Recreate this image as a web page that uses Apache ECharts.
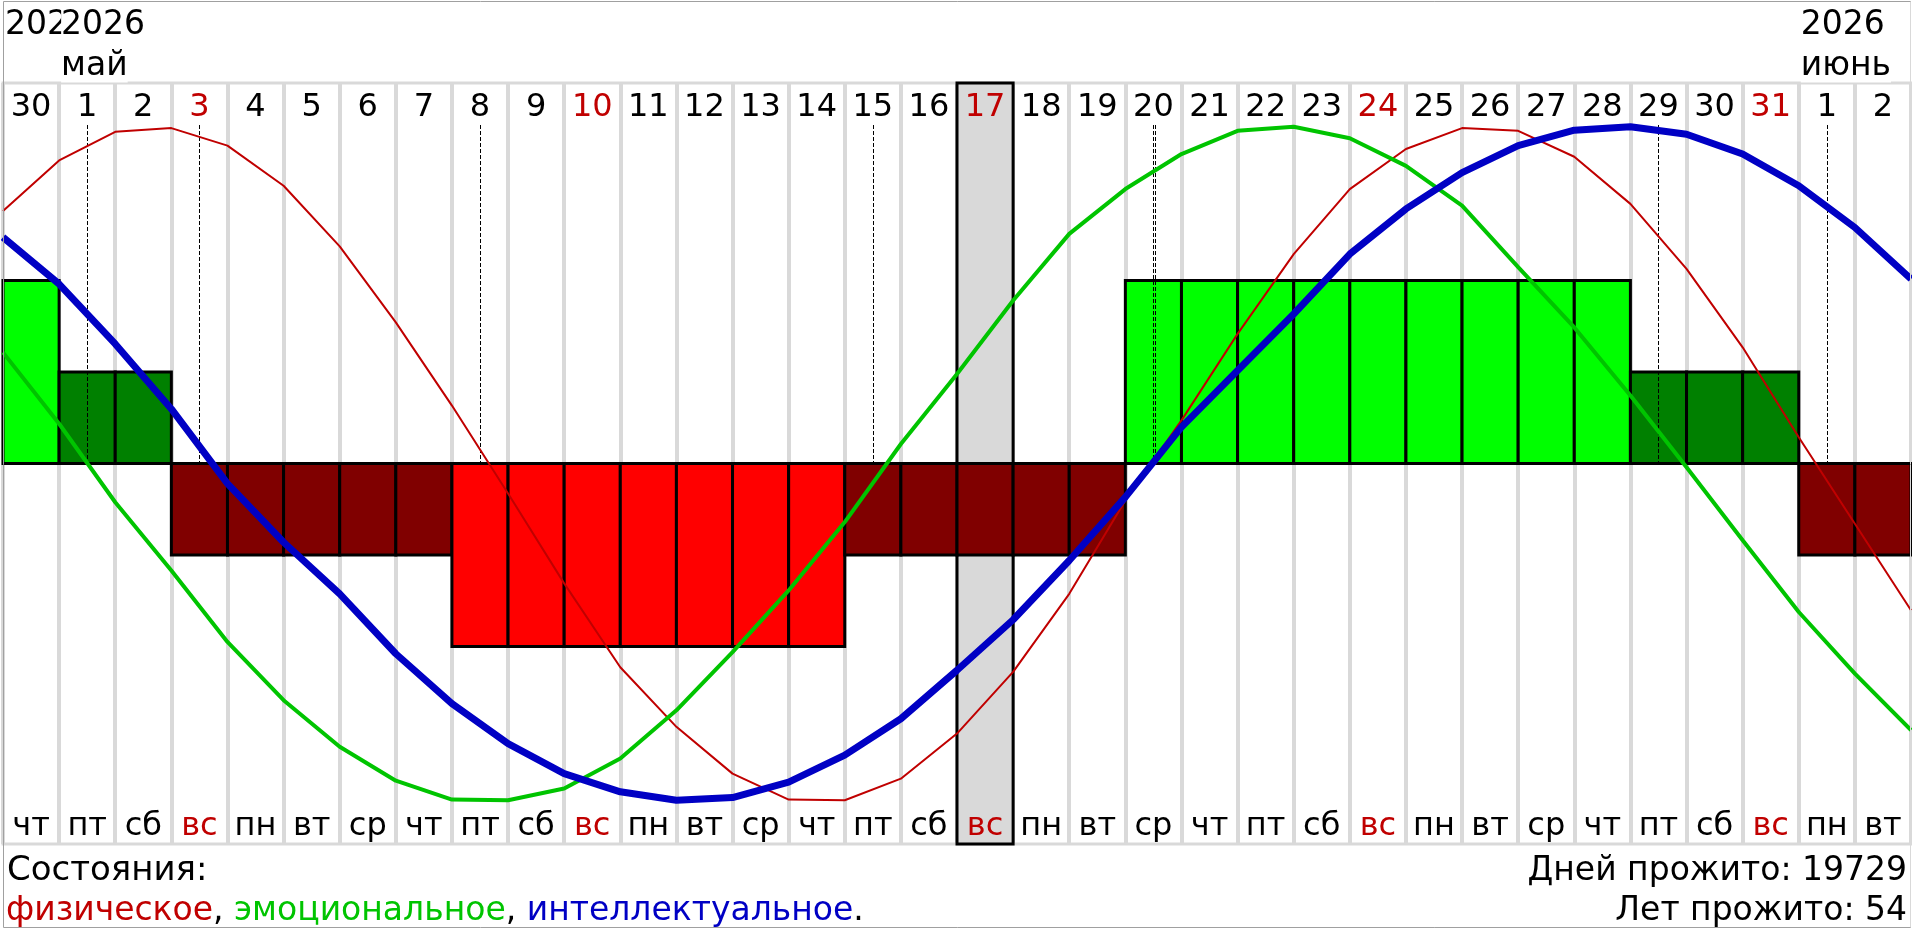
<!DOCTYPE html>
<html>
<head>
<meta charset="utf-8">
<script src="https://cdn.jsdelivr.net/npm/echarts@6/dist/echarts.min.js"></script>
<style>
html,body{margin:0;padding:0;background:#fff;}
#c{width:1912px;height:929px;}
</style>
</head>
<body>
<div id="c"></div>
<script>
// ---------- data ----------
const dayLabels = ['30','1','2','3','4','5','6','7','8','9','10','11','12','13','14','15','16','17','18','19','20','21','22','23','24','25','26','27','28','29','30','31','1','2'];
const weekdayLabels = ['чт','пт','сб','вс','пн','вт','ср','чт','пт','сб','вс','пн','вт','ср','чт','пт','сб','вс','пн','вт','ср','чт','пт','сб','вс','пн','вт','ср','чт','пт','сб','вс','пн','вт'];
const stateLevels = [2,1,1,-1,-1,-1,-1,-1,-2,-2,-2,-2,-2,-2,-2,-1,-1,-1,-1,-1,2,2,2,2,2,2,2,2,2,1,1,1,-1,-1];
const criticalDays = [1,3,8,15,20,20,29,32];
const todayIndex = 17;
const physical = [75,90,98.5,99.6,94.4,82.5,64.5,41.9,17.2,-8.9,-35.6,-60.5,-78.2,-92.1,-99.8,-100,-93.6,-80.2,-61.9,-38.7,-11,12.8,38.5,62.2,81.5,93.4,99.6,98.8,91.1,77.1,57.8,34.5,7.8,-17.9,-43.6];
const emotional = [33,11.8,-11.5,-31.8,-53,-70.3,-84.1,-94.2,-99.8,-100,-96.5,-87.6,-73.3,-56,-37.7,-17.4,5.8,26.6,48.4,68.2,81.5,91.9,98.8,100,96.6,88.4,76.6,58.3,40.4,20.2,-1.1,-22.8,-44.1,-62.4,-79.2];
const intellectual = [67.2,53.3,35.5,16.2,-6,-23.4,-38.7,-56.5,-71.3,-83.2,-92.1,-97.5,-100,-99.2,-94.6,-86.6,-75.8,-61.4,-46.4,-28.8,-10,10.8,27.6,44.4,62.2,75.6,86.4,94.4,99,100,97.8,91.9,82.5,70.1,54.8];
const monthMarks = [
  {col:0, year:'2026', month:''},
  {col:1, year:'2026', month:'май'},
  {col:32, year:'2026', month:'июнь'}
];
const seriesNames = ['физическое','эмоциональное','интеллектуальное'];
const statesTitle = 'Состояния:';
const daysLived = 19729;
const yearsLived = 54;

// ---------- styles ----------
const FONT = 'DejaVu Sans';
const RED = '#c00000', GREEN = '#00c400', BLUE = '#0000c4';
const SUN = '#c00000';
const GRID_GREY = '#d9d9d9';
const levelColor = {'2':'#00ff00','1':'#008000','-1':'#800000','-2':'#ff0000'};

const chart = echarts.init(document.getElementById('c'));

function labelFmt(){
  return function(value, index){
    return weekdayLabels[index] === 'вс' ? '{s|' + value + '}' : '{n|' + value + '}';
  };
}
const labelRich = {
  s:{color:SUN, fontSize:32, fontFamily:FONT},
  n:{color:'#000', fontSize:32, fontFamily:FONT}
};

const option = {
  animation:false,
  backgroundColor:'#fff',
  grid:{left:3, top:83, width:1908, height:761, show:true, borderColor:GRID_GREY, borderWidth:3, backgroundColor:'transparent', containLabel:false},
  xAxis:[
    {type:'value', min:0, max:34, interval:1, position:'bottom', z:0,
      axisLine:{show:false}, axisTick:{show:false}, axisLabel:{show:false},
      splitLine:{show:true, lineStyle:{color:GRID_GREY, width:4}}},
    {type:'category', position:'top', data:dayLabels, boundaryGap:true, z:20,
      axisLine:{show:false}, axisTick:{show:false}, splitLine:{show:false},
      axisLabel:{inside:true, interval:0, margin:25, verticalAlign:'middle', fontFamily:FONT, fontSize:32, color:'#000', formatter:labelFmt(), rich:labelRich}},
    {type:'category', position:'bottom', data:weekdayLabels, boundaryGap:true, z:20,
      axisLine:{show:false}, axisTick:{show:false}, splitLine:{show:false},
      axisLabel:{inside:true, interval:0, margin:17, verticalAlign:'middle', fontFamily:FONT, fontSize:32, color:'#000', formatter:labelFmt(), rich:labelRich}}
  ],
  yAxis:[
    {type:'value', min:-113, max:113, show:false},
    {type:'value', min:-4.16, max:4.16, show:false}
  ],
  series:[
    {
      type:'custom', name:'states', xAxisIndex:0, yAxisIndex:1, z:3, silent:true,
      data:stateLevels.map((v,i)=>[i,v]),
      renderItem:function(params, api){
        const i = api.value(0), v = api.value(1);
        const p0 = api.coord([i,0]), p1 = api.coord([i+1,v]);
        const bar = {type:'rect', z2:2, shape:{x:p0[0], y:Math.min(p0[1],p1[1]), width:p1[0]-p0[0], height:Math.abs(p1[1]-p0[1])},
          style:{fill:levelColor[String(v)], stroke:'#000', lineWidth:3}};
        if (i === todayIndex) {
          const cs = params.coordSys;
          return {type:'group', children:[
            {type:'rect', z2:1, shape:{x:p0[0], y:cs.y, width:p1[0]-p0[0], height:cs.height},
              style:{fill:GRID_GREY, stroke:'#000', lineWidth:3}},
            bar
          ]};
        }
        return bar;
      }
    },
    {
      type:'custom', name:'critical', xAxisIndex:0, yAxisIndex:1, z:4, silent:true,
      data:criticalDays.map((d,j)=>[d, criticalDays.slice(0,j).filter(x=>x===d).length]),
      renderItem:function(params, api){
        const d = api.value(0), occ = api.value(1);
        const x = Math.round(api.coord([d+0.5,0])[0]) + 0.5 + 2*occ;
        const yBase = api.coord([d,0])[1];
        const yTop = params.coordSys.y + 42;
        return {type:'line', shape:{x1:x, y1:yTop, x2:x, y2:yBase},
          style:{stroke:'#000', lineWidth:1, lineDash:[4,2]}};
      }
    },
    {type:'line', name:seriesNames[0], xAxisIndex:0, yAxisIndex:0, z:5, silent:true, symbol:'none',
      data:physical.map((v,k)=>[k,v]), lineStyle:{color:RED, width:2}},
    {type:'line', name:seriesNames[1], xAxisIndex:0, yAxisIndex:0, z:6, silent:true, symbol:'none',
      data:emotional.map((v,k)=>[k,v]), lineStyle:{color:GREEN, width:4}},
    {type:'line', name:seriesNames[2], xAxisIndex:0, yAxisIndex:0, z:7, silent:true, symbol:'none',
      data:intellectual.map((v,k)=>[k,v]), lineStyle:{color:BLUE, width:7}}
  ]
};
chart.setOption(option);

// ---------- header / footer texts ----------
const F33 = '33px "DejaVu Sans"';
function txt(text, x, y, opts){
  return {type:'text', z:100, silent:true, style:Object.assign({
    text:text, x:x, y:y, font:F33, fill:'#000',
    align:'left', textAlign:'left', verticalAlign:'middle', textVerticalAlign:'middle'
  }, opts||{})};
}
const graphics = [];
graphics.push({type:'polyline', z:99, silent:true, shape:{points:[[1911,1.5],[3.5,1.5],[3.5,927.5],[1911,927.5]]},
  style:{fill:'none', stroke:'#a0a0a0', lineWidth:1}});
graphics.push({type:'line', z:99, silent:true, shape:{x1:1910.5, y1:1.5, x2:1910.5, y2:927.5},
  style:{stroke:GRID_GREY, lineWidth:1}});
monthMarks.forEach(m=>{
  const x = chart.convertToPixel({xAxisIndex:0}, m.col) + 2;
  graphics.push(txt(m.year, x, 25, {backgroundColor:'#fff'}));
  if (m.month) graphics.push(txt(m.month, x, 66, {backgroundColor:'#fff'}));
});
graphics.push(txt(statesTitle, 7, 871, {font:'34px "DejaVu Sans"'}));
graphics.push(txt('{r|' + seriesNames[0] + '}, {g|' + seriesNames[1] + '}, {b|' + seriesNames[2] + '}.', 6, 911, {
  rich:{
    r:{fill:RED, font:F33, fontSize:33, fontFamily:FONT},
    g:{fill:GREEN, font:F33, fontSize:33, fontFamily:FONT},
    b:{fill:BLUE, font:F33, fontSize:33, fontFamily:FONT}
  }
}));
graphics.push(txt('Дней прожито: ' + daysLived, 1907, 871, {align:'right', textAlign:'right'}));
graphics.push(txt('Лет прожито: ' + yearsLived, 1907, 911, {align:'right', textAlign:'right'}));
chart.setOption({graphic:graphics});
</script>
</body>
</html>
